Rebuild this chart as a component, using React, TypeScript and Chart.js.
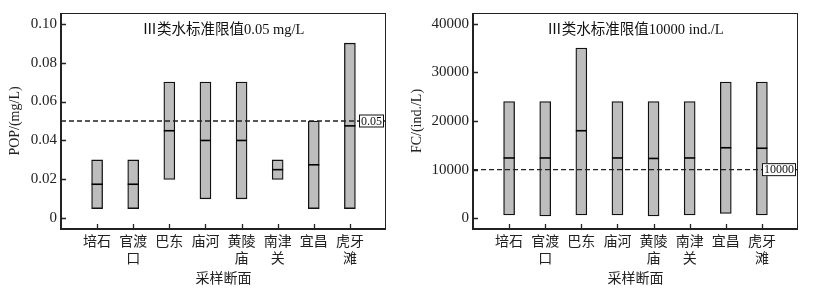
import React, { useEffect, useRef } from 'react';
import { Chart, registerables } from 'chart.js';
Chart.register(...registerables);

const categories: string[][] = [['培石'], ['官渡', '口'], ['巴东'], ['庙河'], ['黄陵', '庙'], ['南津', '关'], ['宜昌'], ['虎牙', '滩']];
const popMin = [0.005, 0.005, 0.02, 0.01, 0.01, 0.02, 0.005, 0.005];
const popMax = [0.03, 0.03, 0.07, 0.07, 0.07, 0.03, 0.05, 0.09];
const popMedian = [0.0175, 0.0175, 0.045, 0.04, 0.04, 0.025, 0.0275, 0.0475];
const fcMin = [700, 500, 700, 700, 500, 700, 1000, 700];
const fcMax = [24000, 24000, 35000, 24000, 24000, 24000, 28000, 28000];
const fcMedian = [12400, 12400, 18000, 12400, 12300, 12400, 14500, 14400];
const popTicks = [0, 0.02, 0.04, 0.06, 0.08, 0.1];
const fcTicks = [0, 10000, 20000, 30000, 40000];
const popLimit = 0.05;
const fcLimit = 10000;
const popLimitLabel = '0.05';
const fcLimitLabel = '10000';
const popTitle = 'Ⅲ类水标准限值0.05 mg/L';
const fcTitle = 'Ⅲ类水标准限值10000 ind./L';
const popYTitle = 'POP/(mg/L)';
const fcYTitle = 'FC/(ind./L)';
const xTitle = '采样断面';

const SERIF = "'Liberation Serif', 'Noto Sans CJK SC', serif";
const CJK = "'Noto Sans CJK SC', 'Liberation Serif', sans-serif";

const decorPlugin = {
  id: 'decor',
  afterDatasetsDraw(chart: any) {
    const o = chart.options.plugins.decor;
    const { ctx, chartArea } = chart;
    const { left, right, top, bottom } = chartArea;
    const xs = chart.scales.x;
    const ys = chart.scales.y;
    ctx.save();
    // limit dashed line
    const ly = ys.getPixelForValue(o.limit);
    ctx.strokeStyle = '#222';
    ctx.lineWidth = 1.3;
    ctx.setLineDash([5, 3]);
    ctx.beginPath();
    ctx.moveTo(left, ly);
    ctx.lineTo(right, ly);
    ctx.stroke();
    ctx.setLineDash([]);
    // label box
    ctx.font = `12px ${SERIF}`;
    const tw = ctx.measureText(o.limitLabel).width;
    const bw = tw + 4;
    const bh = 13;
    const bx = right - 2 - bw;
    ctx.fillStyle = '#fff';
    ctx.fillRect(bx, ly - bh / 2, bw, bh);
    ctx.strokeStyle = '#111';
    ctx.lineWidth = 1;
    ctx.strokeRect(bx + 0.5, ly - bh / 2 + 0.5, bw - 1, bh - 1);
    ctx.fillStyle = '#111';
    ctx.textAlign = 'center';
    ctx.textBaseline = 'middle';
    ctx.fillText(o.limitLabel, bx + bw / 2, ly + 0.5);
    // title
    ctx.font = `14.5px ${SERIF}`;
    ctx.fillText(o.title, (left + right) / 2, top + 17);
    // frame
    ctx.strokeStyle = '#222';
    ctx.lineWidth = 1;
    ctx.strokeRect(left + 0.5, top + 0.5, right - left - 1, bottom - top - 1);
    ctx.lineWidth = 2;
    ctx.beginPath();
    ctx.moveTo(left, top);
    ctx.lineTo(left, bottom);
    ctx.lineTo(right, bottom);
    ctx.stroke();
    // inward ticks
    ctx.lineWidth = 1.3;
    ctx.beginPath();
    ys.ticks.forEach((t: any) => {
      const py = Math.round(ys.getPixelForValue(t.value)) + 0.5;
      ctx.moveTo(left, py);
      ctx.lineTo(left + 5, py);
    });
    xs.ticks.forEach((t: any) => {
      const px = Math.round(xs.getPixelForValue(t.value)) + 0.5;
      ctx.moveTo(px, bottom);
      ctx.lineTo(px, bottom - 5);
    });
    ctx.stroke();
    ctx.restore();
  },
};

type PanelProps = {
  left: number;
  width: number;
  yWidth: number;
  padRight: number;
  yMin: number;
  yMax: number;
  yTicks: number[];
  fmt: (v: number) => string;
  lo: number[];
  hi: number[];
  med: number[];
  limit: number;
  limitLabel: string;
  title: string;
  yTitle: string;
  yTitlePad: number;
};

function Panel(p: PanelProps) {
  const ref = useRef<HTMLCanvasElement>(null);
  useEffect(() => {
    const chart = new Chart(ref.current as HTMLCanvasElement, {
      type: 'bar',
      data: {
        datasets: [
          {
            type: 'line',
            data: p.med.map((v, i) => ({ x: i + 1, y: v })),
            showLine: false,
            pointStyle: 'line',
            pointRadius: 5.5,
            pointBorderWidth: 1.6,
            borderColor: '#000',
            pointBorderColor: '#000',
            order: 0,
          } as any,
          {
            type: 'bar',
            data: p.lo.map((v, i) => ({ x: i + 1, y: [v, p.hi[i]] })),
            backgroundColor: '#bdbdbd',
            borderColor: '#111',
            borderWidth: 1.3,
            borderSkipped: false,
            barThickness: 11,
            order: 1,
          } as any,
        ],
      },
      options: {
        animation: false,
        responsive: false,
        devicePixelRatio: 1,
        layout: { padding: { left: 0, right: p.padRight, top: 6, bottom: 0 } },
        plugins: {
          legend: { display: false },
          tooltip: { enabled: false },
          decor: { limit: p.limit, limitLabel: p.limitLabel, title: p.title },
        } as any,
        scales: {
          x: {
            type: 'linear',
            min: 0,
            max: 9,
            offset: false,
            grid: { display: false, drawTicks: false },
            border: { display: false },
            afterBuildTicks: (s: any) => {
              s.ticks = categories.map((_, i) => ({ value: i + 1 }));
            },
            afterFit: (s: any) => {
              s.height = 65;
            },
            ticks: {
              autoSkip: false,
              maxRotation: 0,
              padding: 3,
              color: '#222',
              font: { family: CJK, size: 14 },
              callback: (v: any) => categories[Math.round(v) - 1] || '',
            },
            title: {
              display: true,
              text: xTitle,
              color: '#222',
              font: { family: CJK, size: 14 },
              padding: { top: 0, bottom: 8 },
            },
          },
          y: {
            type: 'linear',
            min: p.yMin,
            max: p.yMax,
            grid: { display: false, drawTicks: false },
            border: { display: false },
            afterBuildTicks: (s: any) => {
              s.ticks = p.yTicks.map((v) => ({ value: v }));
            },
            afterFit: (s: any) => {
              s.width = p.yWidth;
            },
            ticks: {
              padding: 4,
              color: '#222',
              font: { family: SERIF, size: 15 },
              callback: (v: any) => p.fmt(Number(v)),
            },
            title: {
              display: true,
              text: p.yTitle,
              color: '#222',
              font: { family: SERIF, size: 14 },
              padding: { top: p.yTitlePad, bottom: 0 },
            },
          },
        },
      },
      plugins: [decorPlugin],
    });
    return () => chart.destroy();
  }, []);
  return (
    <canvas
      ref={ref}
      width={p.width}
      height={294}
      style={{ position: 'absolute', left: p.left, top: 0, width: p.width, height: 294 }}
    />
  );
}

export default function App() {
  return (
    <div style={{ position: 'fixed', left: 0, top: 0, width: 813, height: 294, background: '#fff' }}>
      <Panel
        left={0}
        width={400}
        yWidth={61}
        padRight={14}
        yMin={-0.0055}
        yMax={0.1055}
        yTicks={popTicks}
        fmt={(v) => (v === 0 ? '0' : v.toFixed(2))}
        lo={popMin}
        hi={popMax}
        med={popMedian}
        limit={popLimit}
        limitLabel={popLimitLabel}
        title={popTitle}
        yTitle={popYTitle}
        yTitlePad={7}
      />
      <Panel
        left={400}
        width={413}
        yWidth={73}
        padRight={15}
        yMin={-2200}
        yMax={42200}
        yTicks={fcTicks}
        fmt={(v) => String(Math.round(v))}
        lo={fcMin}
        hi={fcMax}
        med={fcMedian}
        limit={fcLimit}
        limitLabel={fcLimitLabel}
        title={fcTitle}
        yTitle={fcYTitle}
        yTitlePad={9}
      />
    </div>
  );
}
